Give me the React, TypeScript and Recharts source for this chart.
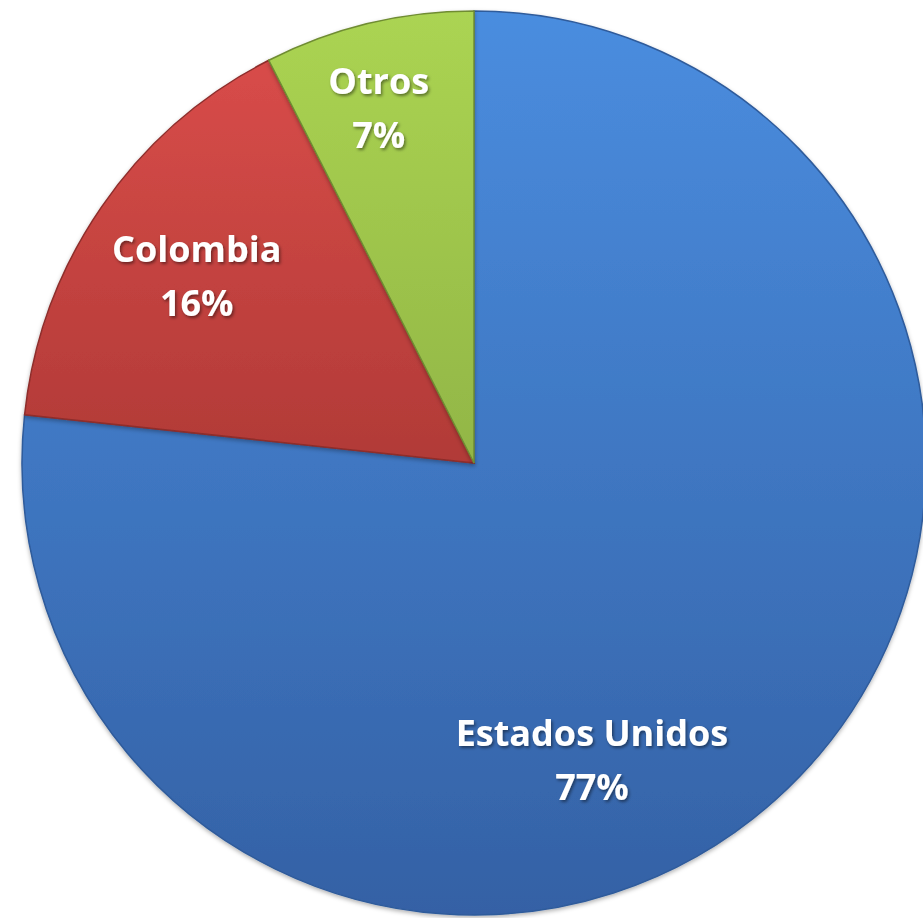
import React from "react";
import { PieChart, Pie, Cell } from "recharts";

const categories = ["Estados Unidos", "Colombia", "Otros"];
const shares = [76.7, 15.8, 7.5];
const percentLabels = ["77%", "16%", "7%"];

const data = categories.map((name, i) => ({ name, value: shares[i], pct: percentLabels[i] }));

const GRADIENTS = [
  { id: "gBlue", top: "#4a8ddf", bottom: "#3461a5", stroke: "#2f5b9b" },
  { id: "gRed", top: "#d84c49", bottom: "#b13a37", stroke: "#8e2d2b" },
  { id: "gGreen", top: "#abd452", bottom: "#92b646", stroke: "#6f8c33" },
];

// label placement relative to slice mid angle (style only)
const LABEL_STYLE = [
  { angleShift: -20.25, radiusRatio: 0.706 },
  { angleShift: 0.55, radiusRatio: 0.74 },
  { angleShift: 1.5, radiusRatio: 0.815 },
];

const RAD = Math.PI / 180;
const FONT = "'Open Sans', Lato, sans-serif";

const renderLabel = (props: any) => {
  const { cx, cy, midAngle, outerRadius, index, payload } = props;
  const st = LABEL_STYLE[index];
  const a = (midAngle + st.angleShift) * RAD;
  const r = outerRadius * st.radiusRatio;
  const x = cx + r * Math.cos(a);
  const y = cy - r * Math.sin(a);
  return (
    <g filter="url(#txtShadow)">
      <text
        x={x}
        y={y - 27}
        textAnchor="middle"
        dominantBaseline="central"
        fill="#ffffff"
        fontFamily={FONT}
        fontWeight={700}
        fontSize={36}
      >
        {payload.name}
      </text>
      <text
        x={x}
        y={y + 27}
        textAnchor="middle"
        dominantBaseline="central"
        fill="#ffffff"
        fontFamily={FONT}
        fontWeight={700}
        fontSize={36}
      >
        {payload.pct}
      </text>
    </g>
  );
};

export default function App() {
  return (
    <div style={{ position: "absolute", left: 0, top: 0, background: "#ffffff" }}>
      <PieChart width={923} height={918} margin={{ top: 0, right: 0, bottom: 0, left: 0 }}>
        <defs>
          {GRADIENTS.map((g) => (
            <linearGradient key={g.id} id={g.id} x1="0" y1="0" x2="0" y2="1">
              <stop offset="0%" stopColor={g.top} />
              <stop offset="100%" stopColor={g.bottom} />
            </linearGradient>
          ))}
          <filter id="txtShadow" x="-20%" y="-20%" width="140%" height="140%">
            <feDropShadow dx="1.5" dy="2" stdDeviation="1.5" floodColor="#000000" floodOpacity="0.45" />
          </filter>
          <filter id="pieShadow" x="-5%" y="-5%" width="110%" height="110%">
            <feDropShadow dx="0" dy="2" stdDeviation="2" floodColor="#000000" floodOpacity="0.3" />
          </filter>
        </defs>
        <Pie
          data={data}
          dataKey="value"
          nameKey="name"
          cx={474}
          cy={463}
          outerRadius={452}
          startAngle={90}
          endAngle={-270}
          stroke="none"
          isAnimationActive={false}
          labelLine={false}
          label={renderLabel}
          style={{ filter: "url(#pieShadow)" }}
        >
          {data.map((d, i) => (
            <Cell key={d.name} fill={`url(#${GRADIENTS[i].id})`} stroke={GRADIENTS[i].stroke} strokeWidth={1.5} />
          ))}
        </Pie>
      </PieChart>
    </div>
  );
}
